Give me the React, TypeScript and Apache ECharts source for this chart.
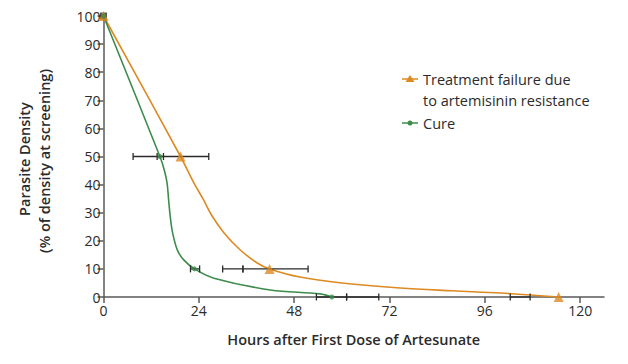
import React, { useEffect, useRef } from "react";
import * as echarts from "echarts";

// Marker points
const failHours = [0, 19.4, 41.8, 114.6];
const failValues = [100, 50, 10, 0];
const cureHours = [0, 14.2, 22.9, 57.5];
const cureValues = [100, 50, 10, 0];

// Fitted curves
const failCurveHours = [0, 19.4, 22.7, 25.1, 27.3, 30.3, 34.3, 38.7, 41.8, 49.5, 60, 74.7, 88, 100, 114.6];
const failCurveValues = [100, 50, 40.7, 34.8, 28.9, 22.9, 16.9, 12.1, 10, 7.1, 5, 3.2, 2.2, 1.4, 0];
const cureCurveHours = [0, 14.2, 15.3, 16.0, 16.4, 16.8, 17.4, 18.6, 20.2, 22.9, 27.8, 42, 54.5, 57.5];
const cureCurveValues = [100, 50, 45.2, 40.6, 34.5, 28.6, 22.8, 16.7, 13.2, 10, 6.7, 2.5, 1.1, 0];

// Error bars (horizontal ranges in hours)
const errY = [50, 10, 50, 10, 0, 0];
const errLow = [7.45, 30.0, 13.5, 21.9, 53.6, 102.4];
const errHigh = [26.5, 51.5, 15.1, 24.2, 69.3, 107.4];
// Extra tick marks on the bars
const extraTickY = [10, 0];
const extraTickX = [35.1, 61.2];

const xTicks = [0, 24, 48, 72, 96, 120];

const ORANGE = "#dc8a22";
const GREEN = "#3d8c4c";
const TEXT = "#2b2b2b";
const FONT = "Open Sans";

export default function App() {
  const ref = useRef<HTMLDivElement>(null);
  useEffect(() => {
    if (!ref.current) return;
    const chart = echarts.init(ref.current, null, { renderer: "svg" });
    const errData = errY.map((y, i) => [errLow[i], errHigh[i], y]);
    extraTickY.forEach((y, i) => errData.push([extraTickX[i], extraTickX[i], y]));
    chart.setOption({
      animation: false,
      grid: { left: 103.5, right: 24, top: 16, bottom: 67 },
      xAxis: {
        type: "value",
        min: 0,
        max: 126,
        interval: 24,
        axisLine: { lineStyle: { color: "#5a5a5a", width: 1.5 } },
        axisTick: { length: 6, lineStyle: { color: "#5a5a5a", width: 1.5 }, customValues: xTicks },
        axisLabel: { customValues: xTicks, color: TEXT, fontFamily: FONT, fontSize: 14, margin: 6 },
        splitLine: { show: false },
        name: "Hours after First Dose of Artesunate",
        nameLocation: "middle",
        nameGap: 35,
        nameTextStyle: { color: TEXT, fontFamily: FONT, fontSize: 14.5, fontWeight: 600 },
      },
      yAxis: {
        type: "value",
        min: 0,
        max: 100,
        interval: 10,
        axisLine: { show: true, lineStyle: { color: "#5a5a5a", width: 1.5 } },
        axisTick: { show: true, length: 6, lineStyle: { color: "#5a5a5a", width: 1.5 } },
        axisLabel: { color: TEXT, fontFamily: FONT, fontSize: 14, margin: 3 },
        splitLine: { show: false },
      },
      graphic: [
        {
          type: "text",
          x: 24,
          y: 159,
          rotation: Math.PI / 2,
          style: { text: "Parasite Density", fill: TEXT, font: `600 14.5px "${FONT}"`, textAlign: "center", textVerticalAlign: "middle" },
        },
        {
          type: "text",
          x: 44,
          y: 161,
          rotation: Math.PI / 2,
          style: { text: "(% of density at screening)", fill: TEXT, font: `600 14.5px "${FONT}"`, textAlign: "center", textVerticalAlign: "middle" },
        },
        { type: "line", shape: { x1: 402, y1: 79, x2: 418, y2: 79 }, style: { stroke: ORANGE, lineWidth: 1.5 } },
        { type: "polygon", shape: { points: [[410, 75], [414.5, 82], [405.5, 82]] }, style: { fill: ORANGE } },
        { type: "text", x: 423, y: 79, style: { text: "Treatment failure due", fill: TEXT, font: `14.5px "${FONT}"`, textVerticalAlign: "middle" } },
        { type: "text", x: 423, y: 100, style: { text: "to artemisinin resistance", fill: TEXT, font: `14.5px "${FONT}"`, textVerticalAlign: "middle" } },
        { type: "line", shape: { x1: 402, y1: 123, x2: 418, y2: 123 }, style: { stroke: GREEN, lineWidth: 1.5 } },
        { type: "circle", shape: { cx: 410, cy: 123, r: 2.5 }, style: { fill: GREEN } },
        { type: "text", x: 423, y: 123, style: { text: "Cure", fill: TEXT, font: `14.5px "${FONT}"`, textVerticalAlign: "middle" } },
      ],
      series: [
        {
          type: "line",
          data: failCurveHours.map((h, i) => [h, failCurveValues[i]]),
          smooth: 0.35,
          showSymbol: false,
          symbol: "none",
          lineStyle: { color: ORANGE, width: 1.6 },
          z: 2,
        },
        {
          type: "line",
          data: cureCurveHours.map((h, i) => [h, cureCurveValues[i]]),
          smooth: 0.35,
          showSymbol: false,
          symbol: "none",
          lineStyle: { color: GREEN, width: 1.6 },
          z: 2,
        },
        {
          type: "custom",
          data: errData,
          encode: { x: [0, 1], y: 2 },
          z: 3,
          renderItem: (params: any, api: any) => {
            const lo = api.coord([api.value(0), api.value(2)]);
            const hi = api.coord([api.value(1), api.value(2)]);
            const st = { stroke: "#2a2a2a", lineWidth: 1.3 };
            return {
              type: "group",
              children: [
                { type: "line", shape: { x1: lo[0], y1: lo[1], x2: hi[0], y2: hi[1] }, style: st },
                { type: "line", shape: { x1: lo[0], y1: lo[1] - 3.5, x2: lo[0], y2: lo[1] + 3.5 }, style: st },
                { type: "line", shape: { x1: hi[0], y1: hi[1] - 3.5, x2: hi[0], y2: hi[1] + 3.5 }, style: st },
              ],
            };
          },
        },
        {
          type: "scatter",
          data: [[0, 100]],
          symbol: "rect",
          symbolSize: 7,
          itemStyle: { color: "#2a2a2a" },
          z: 4,
        },
        {
          type: "scatter",
          data: failHours.map((h, i) => [h, failValues[i]]),
          symbol: "triangle",
          symbolSize: 10,
          itemStyle: { color: ORANGE },
          z: 5,
        },
        {
          type: "scatter",
          data: cureHours.map((h, i) => [h, cureValues[i]]),
          symbol: "circle",
          symbolSize: 5,
          itemStyle: { color: GREEN },
          z: 5,
        },
      ],
    });
    return () => chart.dispose();
  }, []);
  return <div ref={ref} style={{ width: 628, height: 364, position: "absolute", left: 0, top: 0 }} />;
}
